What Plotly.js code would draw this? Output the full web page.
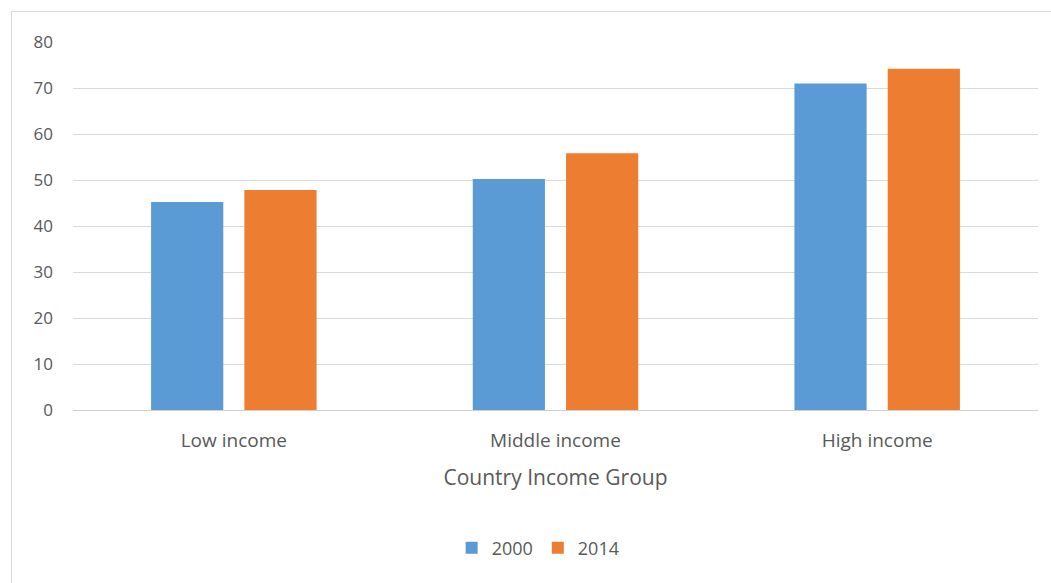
<!DOCTYPE html>
<html>
<head>
<meta charset="utf-8">
<script src="https://cdn.plot.ly/plotly-3.0.1.min.js"></script>
<style>
html,body{margin:0;padding:0;background:#fff;}
#frame{position:absolute;left:11px;top:11px;width:1100px;height:700px;border-left:1px solid #d9d9d9;border-top:1px solid #d9d9d9;}
#chart{position:absolute;left:0;top:0;width:1051px;height:583px;}
</style>
</head>
<body>
<div id="frame"></div>
<div id="chart"></div>
<script>
const categories = ["Low income", "Middle income", "High income"];
const series2000 = [45.2, 50.2, 71.0];
const series2014 = [47.8, 55.8, 74.2];
const yTicks = [0, 10, 20, 30, 40, 50, 60, 70, 80];

const fontFam = '"Open Sans", "Liberation Sans", sans-serif';
const textColor = '#595959';

const data = [
  {type:'bar', name:'2000', x:categories, y:series2000, marker:{color:'#5B9BD5'}, hoverinfo:'y'},
  {type:'bar', name:'2014', x:categories, y:series2014, marker:{color:'#ED7D31'}, hoverinfo:'y'}
];

const layout = {
  width:1051, height:583,
  paper_bgcolor:'rgba(0,0,0,0)', plot_bgcolor:'rgba(0,0,0,0)',
  margin:{l:73, r:13, t:42, b:173},
  barmode:'group', bargap:0.42, bargroupgap:0.226,
  font:{family:fontFam, color:textColor, size:16},
  xaxis:{
    type:'category', showgrid:false, zeroline:false,
    showline:true, linecolor:'#d0d0d0', linewidth:1,
    ticks:'', ticklabelstandoff:13,
    tickfont:{size:19, color:textColor, family:fontFam},
    title:{text:'Country Income Group', font:{size:21, color:textColor, family:fontFam}, standoff:18},
    automargin:false
  },
  yaxis:{
    range:[0,80], tickvals:yTicks, ticktext:yTicks.map(String),
    showgrid:true, gridcolor:'#d9d9d9', gridwidth:1,
    zeroline:false, showline:false, ticks:'',
    ticklabelstandoff:19,
    tickfont:{size:17, color:textColor, family:fontFam},
    automargin:false
  },
  showlegend:true,
  legend:{orientation:'h', x:0.482, xanchor:'center', y:-0.375, yanchor:'middle',
    font:{size:18, color:textColor, family:fontFam}, itemwidth:30, tracegroupgap:0},
};

Plotly.newPlot('chart', data, layout, {displayModeBar:false, staticPlot:true});
</script>
</body>
</html>
